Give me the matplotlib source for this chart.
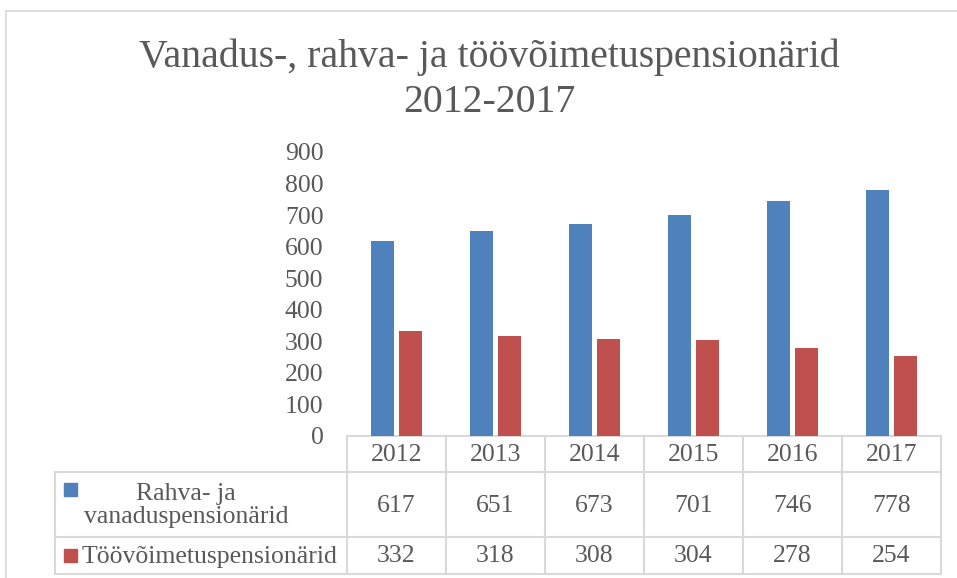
import matplotlib
matplotlib.use("Agg")
import matplotlib.pyplot as plt
import numpy as np

years = ["2012", "2013", "2014", "2015", "2016", "2017"]
rahva = [617, 651, 673, 701, 746, 778]
toovoime = [332, 318, 308, 304, 278, 254]
series_names = ["Rahva- ja\nvanaduspensionärid", "Töövõimetuspensionärid"]
title_lines = ["Vanadus-, rahva- ja töövõimetuspensionärid", "2012-2017"]

blue = "#4f81bd"
red = "#c0504d"
text_c = "#595959"
grid_c = "#d9d9d9"
font = "Liberation Serif"
fs = 18.5

W, H = 957, 578
fig = plt.figure(figsize=(W / 100, H / 100), dpi=100)

# pixel layout
x0, x1 = 347, 941        # plot / table columns
y_top, y_zero = 152, 436  # 900 and 0
row1, row2, row_end = 472, 537, 574
lab_left = 55

# overlay axes in pixel coordinates for frame, title and table
ov = fig.add_axes([0, 0, 1, 1])
ov.set_xlim(0, W)
ov.set_ylim(H, 0)
ov.axis("off")

ov.plot([6, W], [11, 11], color=grid_c, lw=1.2)
ov.plot([6, 6], [11, H], color=grid_c, lw=1.2)

for line, base in zip(title_lines, (67, 112)):
    ov.text(489, base, line, ha="center", va="baseline", fontsize=28.6,
            color=text_c, family=font)

# bars
ax = fig.add_axes([x0 / W, 1 - y_zero / H, (x1 - x0) / W, (y_zero - y_top) / H])
x = np.arange(len(years))
w = 0.227
off = 0.14
ax.bar(x - off, rahva, w, color=blue)
ax.bar(x + off, toovoime, w, color=red)
ax.set_xlim(-0.5, len(years) - 0.5)
ax.set_ylim(0, 900)
ax.set_yticks(range(0, 901, 100))
ax.set_yticklabels([str(v) for v in range(0, 901, 100)], fontsize=fs,
                   color=text_c, family=font)
ax.tick_params(axis="y", length=0, pad=17)
ax.set_xticks([])
for s in ax.spines.values():
    s.set_visible(False)
ax.patch.set_alpha(0)

# table
colw = (x1 - x0) / len(years)
edges = [x0 + i * colw for i in range(len(years) + 1)]
lw = 1.5
ov.plot([x0, x1], [y_zero, y_zero], color=grid_c, lw=lw)
for yy in (row1, row2, row_end):
    ov.plot([lab_left, x1], [yy, yy], color=grid_c, lw=lw)
ov.plot([lab_left, lab_left], [row1, row_end], color=grid_c, lw=lw)
for e in edges:
    ov.plot([e, e], [y_zero, row_end], color=grid_c, lw=lw)

for i, yr in enumerate(years):
    cx = (edges[i] + edges[i + 1]) / 2
    ov.text(cx, (y_zero + row1) / 2 + 1, yr, ha="center", va="center",
            fontsize=fs, color=text_c, family=font)
    ov.text(cx, (row1 + row2) / 2 + 1, str(rahva[i]), ha="center", va="center",
            fontsize=fs, color=text_c, family=font)
    ov.text(cx, (row2 + row_end) / 2 + 1, str(toovoime[i]), ha="center", va="center",
            fontsize=fs, color=text_c, family=font)

# row labels with legend keys
ov.add_patch(plt.Rectangle((64, 483), 13, 13, color=blue))
ov.add_patch(plt.Rectangle((64, 549), 13, 13, color=red))
ov.text(186, (row1 + row2) / 2 + 1, series_names[0], ha="center", va="center",
        fontsize=fs, color=text_c, family=font, multialignment="center",
        linespacing=1.1)
ov.text(82, (row2 + row_end) / 2 + 1, series_names[1], ha="left", va="center",
        fontsize=fs, color=text_c, family=font)

fig.savefig("out.png", dpi=100)
